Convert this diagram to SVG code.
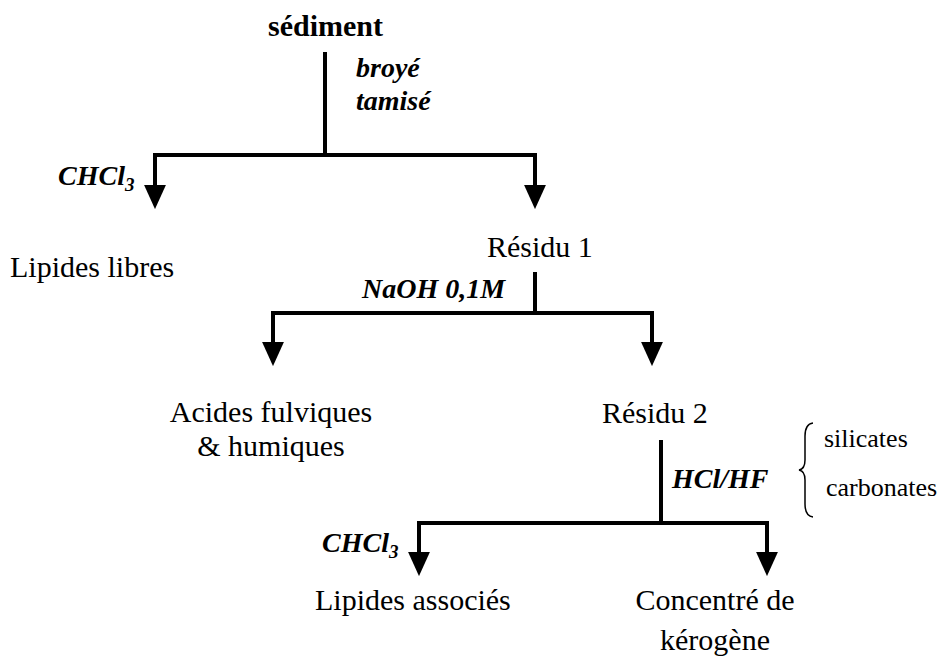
<svg xmlns="http://www.w3.org/2000/svg" width="950" height="665" viewBox="0 0 950 665">
<defs>
<style>
.t{font-family:"Liberation Serif","Times New Roman",serif;font-size:30px;fill:#000}
.b{font-family:"Liberation Serif","Times New Roman",serif;font-size:30px;font-weight:bold;fill:#000}
.bi{font-family:"Liberation Serif","Times New Roman",serif;font-size:28px;font-weight:bold;font-style:italic;fill:#000}
.s{font-family:"Liberation Serif","Times New Roman",serif;font-size:26px;fill:#000}
.c{fill:none;stroke:#000;stroke-width:4;stroke-linejoin:miter}
.arr{fill:none;stroke:#000;stroke-width:4;stroke-linejoin:miter;marker-start:url(#ah);marker-end:url(#ah)}
</style>
<marker id="ah" markerUnits="userSpaceOnUse" markerWidth="24" markerHeight="24" viewBox="0 0 22 22" refX="10" refY="11" orient="auto-start-reverse">
<path d="M0,1 L22,11 L0,21 z" fill="#000"/>
</marker>
</defs>
<g id="connectors">
<path class="c" d="M325,52 V155"/>
<path class="arr" d="M155,196 V155 H535 V196"/>
<path class="c" d="M535,272 V313"/>
<path class="arr" d="M273,353 V313 H652 V353"/>
<path class="c" d="M661,440 V523"/>
<path class="arr" d="M419,563 V523 H767 V563"/>
</g>
<g id="sediment"><text class="b" x="268" y="36">sédiment</text></g>
<g id="label-broye"><text class="bi" x="356" y="77">broyé</text><text class="bi" x="356" y="110">tamisé</text></g>
<g id="label-chcl3-1"><text class="bi" x="58" y="185">CHCl<tspan font-size="19" dy="6">3</tspan></text></g>
<g id="lipides-libres"><text class="t" x="10" y="277">Lipides libres</text></g>
<g id="residu1"><text class="t" x="487" y="257">Résidu 1</text></g>
<g id="label-naoh"><text class="bi" x="362" y="298">NaOH 0,1M</text></g>
<g id="acides"><text class="t" x="271" y="422" text-anchor="middle">Acides fulviques</text><text class="t" x="271" y="456" text-anchor="middle">&amp; humiques</text></g>
<g id="residu2"><text class="t" x="602" y="423">Résidu 2</text></g>
<g id="label-hcl"><text class="bi" x="672" y="488" font-size="29">HCl/HF</text></g>
<g id="brace-note">
<path d="M813,423 Q805,424 805,436 L805,460 Q805,469 799,470 Q805,471 805,480 L805,504 Q805,516 813,517" fill="none" stroke="#000" stroke-width="1.5"/>
<text class="s" x="824" y="447">silicates</text>
<text class="s" x="826" y="496">carbonates</text>
</g>
<g id="label-chcl3-2"><text class="bi" x="322" y="552">CHCl<tspan font-size="19" dy="6">3</tspan></text></g>
<g id="lipides-associes"><text class="t" x="315" y="610">Lipides associés</text></g>
<g id="kerogene"><text class="t" x="715" y="610" text-anchor="middle">Concentré de</text><text class="t" x="715" y="650" text-anchor="middle">kérogène</text></g>
</svg>
